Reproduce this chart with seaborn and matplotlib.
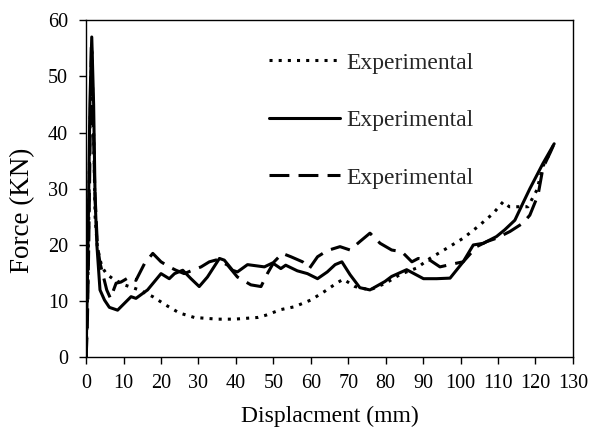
import matplotlib
matplotlib.use("Agg")
import matplotlib.pyplot as plt
import seaborn as sns
import pandas as pd

# ---- data ----
dotted_x = [0, 0.5, 1.0, 1.5, 2.0, 2.4, 3.0, 4.2, 5.5, 7.1, 10.2, 14.2, 17.8, 21.3, 24.9, 28.9,
            35.1, 39.6, 45.8, 48, 52, 55.6, 60, 63.6, 67.1, 68.7, 71.8, 75.8, 80, 84, 88.3,
            91.8, 96.3, 100.7, 104.7, 108.7, 111.4, 113, 118, 120.4, 122, 124]
dotted_y = [0, 15, 40, 55, 40, 25, 19.5, 16.1, 14.8, 14, 12.9, 12, 10.8, 9.3, 7.9, 7.1,
            6.8, 6.8, 7.1, 7.5, 8.5, 9.0, 10.2, 11.7, 13.3, 13.9, 12.6, 12.0, 13.2, 14.8, 15.9,
            17.6, 19.4, 21.2, 23.3, 25.6, 27.7, 26.8, 26.8, 29.8, 34.0, 36.5]

solid_x = [0, 0.5, 1.0, 1.5, 2.0, 2.4, 2.9, 3.7, 4.9, 6.2, 8.4, 10.2, 12, 13.3, 16.4, 20, 22.2,
           23.6, 25.8, 28, 30.2, 32.4, 35.6, 36.9, 39.1, 40.4, 43.1, 47.6, 49.8, 52, 53.3, 56.4,
           59.1, 61.8, 64.4, 66.5, 68.3, 70.5, 73.1, 75.8, 79.8, 81.6, 85.6, 90.1, 93.6, 97.2,
           100.7, 103.4, 106.1, 109.6, 111.8, 114.5, 116.7, 118.5, 122, 125]
solid_y = [0, 20, 45, 57, 45, 28, 19.7, 12, 10.2, 8.9, 8.4, 9.6, 10.8, 10.5, 12, 14.9, 14,
           14.9, 15.5, 14, 12.6, 14.3, 17.6, 17.3, 15.5, 15.2, 16.5, 16.1, 16.8, 15.8, 16.4, 15.4,
           14.9, 14, 15.2, 16.5, 17.0, 14.7, 12.4, 12.0, 13.5, 14.4, 15.6, 14.0, 14.0, 14.1,
           17.0, 20.0, 20.3, 21.5, 22.7, 24.4, 27.5, 30, 34.5, 38]

dashed_x = [0, 0.3, 0.7, 1.0, 1.4, 1.8, 2.3, 3.0, 3.7, 5.5, 6.5, 8, 9.3, 11.6, 13.3, 15.6, 17.8,
            20, 22.2, 24, 26.2, 28.4, 30.7, 32.9, 35.1, 37.8, 40.4, 44, 46.7, 48.4, 50.2, 52.4,
            54.7, 57.8, 59.6, 61.8, 64.4, 67.8, 70.5, 73.1, 75.8, 78.5, 81.6, 84.3, 87, 88.7,
            91.8, 94.5, 98.5, 100.7, 104.3, 107, 109.6, 113.2, 116.7, 118.5, 120.7, 122, 124, 125]
dashed_y = [0, 5, 20, 35, 56, 45, 30, 20, 16.8, 12, 10.5, 13.2, 13.4, 14.3, 13.7, 16.7, 18.5,
            17, 16.1, 15.5, 14.9, 15.5, 16.1, 17, 17.4, 16.4, 14.3, 12.9, 12.6, 14.9, 17, 18.5,
            17.9, 17, 15.8, 17.9, 19, 19.7, 19.1, 20.6, 22.1, 20.3, 19.1, 18.8, 17, 17.6,
            17.3, 16.1, 16.7, 17, 19.7, 20.6, 21.2, 22.4, 23.9, 25.3, 28.9, 33.7, 36.5, 38]

x_ticks = list(range(0, 131, 10))
y_ticks = list(range(0, 61, 10))
legend_labels = ["Experimental", "Experimental", "Experimental"]

# ---- style ----
sns.set_theme(style="white")
plt.rcParams["font.family"] = ["Liberation Serif", "DejaVu Serif"]

fig = plt.figure(figsize=(5.9, 4.28), dpi=100)
ax = fig.add_axes([0.146, 0.165, 0.825, 0.788])

styles = [(0, (1, 2)), "-", (0, (6.5, 3))]
series = [(dotted_x, dotted_y), (solid_x, solid_y), (dashed_x, dashed_y)]
for (xs, ys), ls, lab in zip(series, styles, legend_labels):
    df = pd.DataFrame({"x": xs, "y": ys})
    sns.lineplot(data=df, x="x", y="y", ax=ax, sort=False, estimator=None,
                 color="black", label=lab)
    ln = ax.get_lines()[-1]
    ln.set_linestyle(ls)
    ln.set_linewidth(2.2)

ax.set_xlim(0, 130)
ax.set_ylim(0, 60)
ax.set_xticks(x_ticks)
ax.set_yticks(y_ticks)
ax.tick_params(axis="both", direction="out", length=5, width=1, color="black",
               labelsize=14.5, labelcolor="black", bottom=True, left=True)
ax.tick_params(axis="x", pad=7)
ax.tick_params(axis="y", pad=8)
for sp in ax.spines.values():
    sp.set_color("black")
    sp.set_linewidth(1.0)
    sp.set_visible(True)

ax.set_xlabel("Displacment (mm)", fontsize=17, color="black", labelpad=9.5)
ax.set_ylabel("Force (KN)", fontsize=19.5, color="black")
ax.yaxis.label.set_va("center")
ax.yaxis.set_label_coords(-0.1304, 0.437)

leg = ax.legend(frameon=False, loc="upper left", bbox_to_anchor=(0.375, 0.905),
                handlelength=3.0, handletextpad=0.3, labelspacing=1.52,
                fontsize=17, borderpad=0, borderaxespad=0)
for h, ls in zip(leg.get_lines(), styles):
    h.set_linestyle(ls)
    h.set_linewidth(2.2)

fig.savefig("out.png", dpi=100)
